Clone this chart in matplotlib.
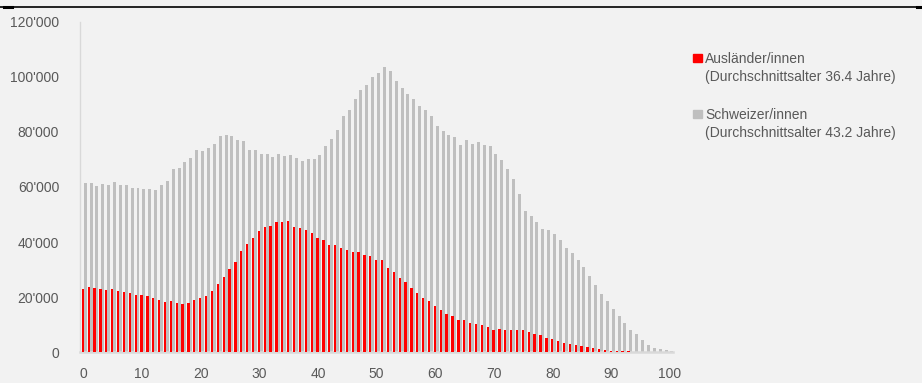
import matplotlib.pyplot as plt
import numpy as np
from matplotlib.lines import Line2D
from matplotlib.patches import Rectangle
from matplotlib.ticker import FuncFormatter, MultipleLocator

# Ständige Wohnbevölkerung nach Alter (0 bis 100 Jahre)
alter = np.arange(0, 101)

auslaender = [
    23000, 23700, 23400, 22900, 22400, 22900, 22200, 21700, 21300, 20600,
    20800, 20500, 19600, 18900, 18200, 18500, 17900, 17500, 18000, 18900,
    19700, 20500, 22100, 24700, 27300, 30100, 32700, 36800, 39300, 41500,
    43900, 45400, 45700, 47400, 47100, 47500, 45300, 45000, 44400, 43300,
    41600, 40800, 39000, 39000, 37800, 37200, 36200, 36200, 35300, 34900,
    33500, 33400, 30700, 29000, 26800, 25600, 23400, 21300, 19600, 18500,
    16700, 15400, 13800, 13100, 11500, 11500, 10500, 10200, 9700, 9100,
    7900, 8200, 8000, 8000, 7900, 8000, 7300, 6700, 6100, 5200,
    4800, 4100, 3400, 2900, 2400, 2200, 1700, 1300, 1100, 700,
    500, 400, 300, 200, 150, 100, 60, 40, 20, 10,
    5,
]

schweizer = [
    61500, 61500, 60500, 61200, 60800, 61700, 60800, 60700, 59500, 59500,
    59300, 59400, 58900, 60800, 62000, 66500, 66900, 69000, 70500, 73300,
    73100, 74300, 75500, 78500, 78900, 78500, 77100, 76600, 73300, 73400,
    72000, 72000, 71000, 72000, 71400, 71600, 70500, 69600, 70100, 70300,
    71500, 74900, 77300, 80900, 85700, 88100, 92000, 95100, 97100, 100100,
    101600, 103700, 102200, 98700, 96100, 93700, 92100, 89400, 88100, 85700,
    82300, 80500, 78800, 78100, 75400, 77000, 75600, 76400, 75400, 75000,
    72100, 69800, 66700, 62800, 57400, 51300, 49600, 47400, 44700, 44200,
    42800, 40700, 37900, 36000, 33300, 31000, 27600, 24400, 21100, 18700,
    15700, 13100, 10400, 8000, 6400, 4400, 2500, 1300, 1000, 700,
    400,
]

label_ausl = "Ausländer/innen"
label_ausl_2 = "(Durchschnittsalter 36.4 Jahre)"
label_ch = "Schweizer/innen"
label_ch_2 = "(Durchschnittsalter 43.2 Jahre)"

ROT = "#ff0000"
GRAU = "#bfbfbf"
HINTERGRUND = "#f2f2f2"
TEXT = "#595959"

plt.rcParams["font.family"] = ["Liberation Sans", "DejaVu Sans"]

fig = plt.figure(figsize=(9.22, 3.83), dpi=100, facecolor=HINTERGRUND)
ax = fig.add_axes([0.0868, 0.0809, 0.6428, 0.8617], facecolor=HINTERGRUND)

ax.bar(alter + 0.32, schweizer, width=0.51, color=GRAU, zorder=2)
ax.bar(alter - 0.08, auslaender, width=0.39, color=ROT, zorder=3)

ax.set_xlim(-0.56, 100.45)
ax.set_ylim(0, 120000)
ax.xaxis.set_major_locator(MultipleLocator(10))
ax.yaxis.set_major_locator(MultipleLocator(20000))
ax.yaxis.set_major_formatter(FuncFormatter(lambda v, p: f"{int(v):,}".replace(",", "'")))

ax.tick_params(axis="both", length=0, labelsize=10, labelcolor=TEXT)
ax.tick_params(axis="y", pad=15)
ax.tick_params(axis="x", pad=11)

for s in ["top", "right"]:
    ax.spines[s].set_visible(False)
ax.spines["left"].set_color("#d9d9d9")
ax.spines["left"].set_linewidth(1.0)
ax.spines["bottom"].set_color("#d9d9d9")
ax.spines["bottom"].set_linewidth(1.8)

# Legende rechts neben dem Diagramm
W, H = 922, 383


def fx(px):
    return px / W


def fy(py):
    return 1 - py / H


for (y0, farbe, z1, z2, yt1, yt2) in [
    (54.3, ROT, label_ausl, label_ausl_2, 59, 77.5),
    (110, GRAU, label_ch, label_ch_2, 115, 133.5),
]:
    fig.patches.append(Rectangle((fx(693), fy(y0 + 8)), fx(8.5), 8 / H,
                                 transform=fig.transFigure, color=farbe))
    fig.text(fx(705), fy(yt1), z1, fontsize=10, color=TEXT, va="center", ha="left")
    fig.text(fx(705), fy(yt2), z2, fontsize=10, color=TEXT, va="center", ha="left")

# Trennlinie oben
fig.add_artist(Line2D([0, 1], [fy(6.5), fy(6.5)], transform=fig.transFigure,
                      color="black", linewidth=1.2))
fig.add_artist(Line2D([fx(4), fx(12)], [fy(7), fy(7)], transform=fig.transFigure,
                      color="black", linewidth=2.2))
fig.add_artist(Line2D([fx(917), fx(922)], [fy(7), fy(7)], transform=fig.transFigure,
                      color="black", linewidth=2.2))

fig.savefig("out.png", dpi=100, facecolor=HINTERGRUND)
